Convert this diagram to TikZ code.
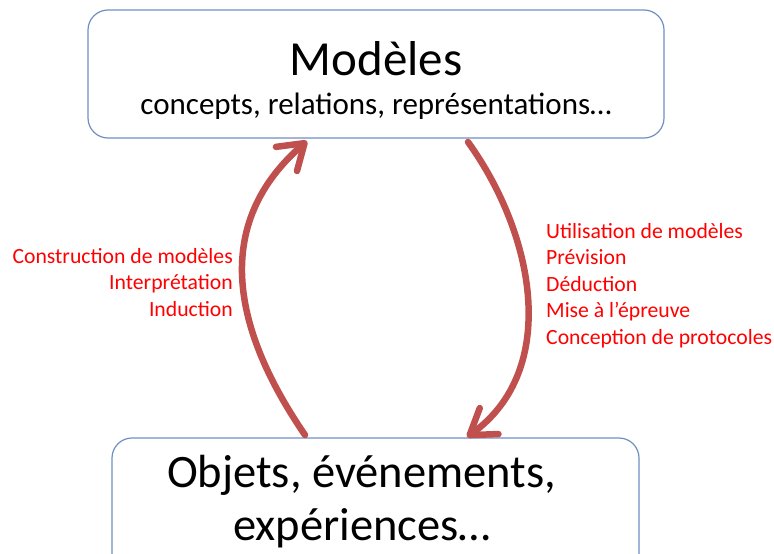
\documentclass[tikz,border=0pt]{standalone}
\usepackage{fontspec}
\setmainfont{Carlito}
\usetikzlibrary{arrows.meta}
\definecolor{boxline}{HTML}{6F8FC4}
\definecolor{arrowred}{HTML}{C0504D}
\definecolor{labelred}{HTML}{FF0000}
\tikzset{
  frame/.style={draw=boxline, line width=1.2pt, rounded corners=20pt, fill=white},
  cycle arrow/.style={draw=arrowred, line width=6.5pt, line cap=round, line join=round,
    -{Straight Barb[length=24pt,width=32pt,line cap=round,line join=round]}},
  steplabel/.style={text=labelred, font=\fontsize{21.7}{26.5}\selectfont, inner sep=0pt},
  leftlabel/.style={steplabel, anchor=base east},
  rightlabel/.style={steplabel, anchor=base west},
}
\begin{document}
\begin{tikzpicture}[x=1pt,y=-1pt]
  \useasboundingbox (0,0) rectangle (774,554);
  % boxes
  \node[frame, minimum width=576pt, minimum height=128pt] (models) at (376,74) {};
  \node[frame, minimum width=527pt, minimum height=150pt] (objects) at (375.5,513) {};
  % box texts
  \node[anchor=base, inner sep=0pt, font=\fontsize{49}{55}\selectfont] (mtitle) at (376,75) {Modèles};
  \node[anchor=base, inner sep=0pt, font=\fontsize{31}{36}\selectfont] (msub) at (376,114) {concepts, relations, représentations…};
  \node[anchor=base, inner sep=0pt, font=\fontsize{46.5}{55}\selectfont] (otitle1) at (361.5,487) {Objets, événements,};
  \node[anchor=base, inner sep=0pt, font=\fontsize{46.5}{55}\selectfont] (otitle2) at (362,540) {expériences…};
  % arrow end points on the box borders
  \coordinate (upfrom) at (305,435);
  \coordinate (upto) at (307,141);
  \coordinate (downfrom) at (468,142);
  \coordinate (downto) at (467,437);
  \draw[cycle arrow] (upfrom) .. controls (240,340) and (205,230) .. (upto);
  \draw[cycle arrow] (downfrom) .. controls (535,235) and (560,370) .. (downto);
  % arrow labels
  \node[leftlabel] (ind1) at (233,263) {Construction de modèles};
  \node[leftlabel] (ind2) at (233,289.5) {Interprétation};
  \node[leftlabel] (ind3) at (233,316) {Induction};
  \node[rightlabel] (ded1) at (546,238) {Utilisation de modèles};
  \node[rightlabel] (ded2) at (546,264.5) {Prévision};
  \node[rightlabel] (ded3) at (546,291) {Déduction};
  \node[rightlabel] (ded4) at (546,317.5) {Mise à l’épreuve};
  \node[rightlabel] (ded5) at (546,344) {Conception de protocoles};
\end{tikzpicture}
\end{document}
